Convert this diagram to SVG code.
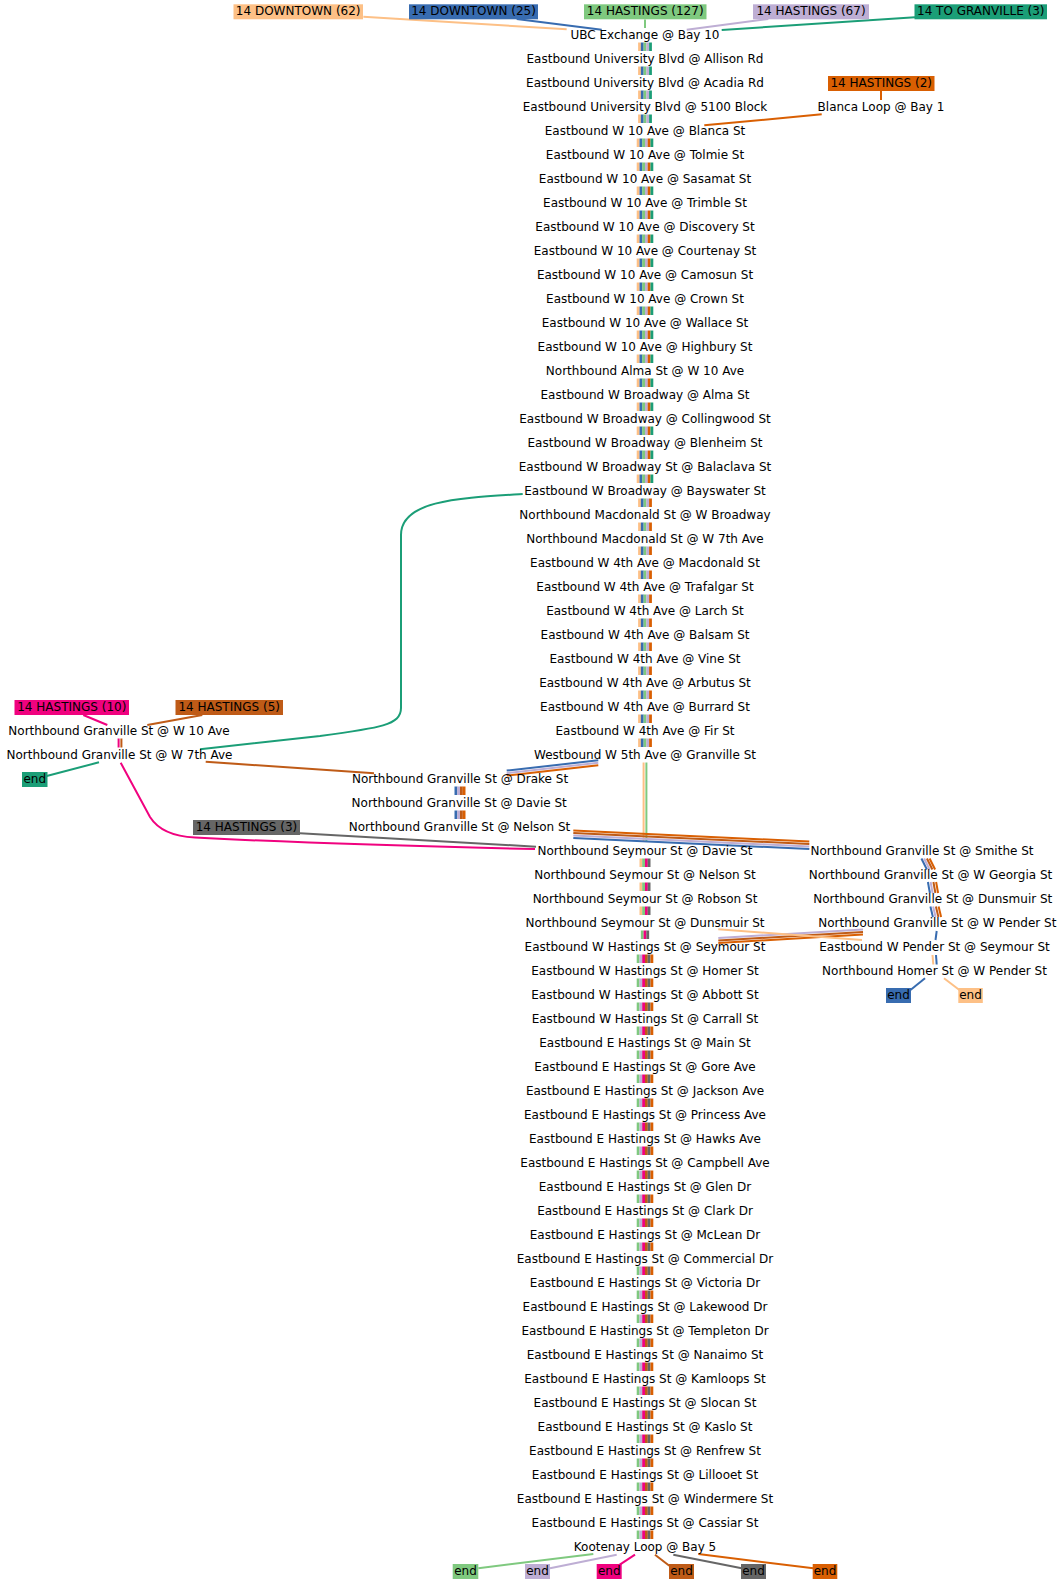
<svg xmlns="http://www.w3.org/2000/svg" width="1063" height="1584" viewBox="0 0 1063 1584">
<style>
text{font-family:"DejaVu Sans","Liberation Sans",sans-serif;font-size:12px;fill:#000;text-anchor:middle}
.e line,.e path,defs line{fill:none;stroke-width:2}
.L{stroke-width:2.8}
.pe{stroke:#fdc086}.bl{stroke:#386cb0}.gr{stroke:#7fc97f}.la{stroke:#beaed4}.te{stroke:#1b9e77}
.or{stroke:#d95f02}.pk{stroke:#f0027f}.br{stroke:#bf5b17}.gy{stroke:#666666}
.fpe{fill:#fdc086}.fbl{fill:#386cb0}.fgr{fill:#7fc97f}.fla{fill:#beaed4}.fte{fill:#1b9e77}
.for{fill:#d95f02}.fpk{fill:#f0027f}.fbr{fill:#bf5b17}.fgy{fill:#666666}
</style>
<defs>
<g id="b1"><line class="L pe" x1="639.5" x2="639.5" y2="8.5"/><line class="L bl" x1="642.25" x2="642.25" y2="8.5"/><line class="L gr" x1="645" x2="645" y2="8.5"/><line class="L la" x1="647.75" x2="647.75" y2="8.5"/><line class="L te" x1="650.5" x2="650.5" y2="8.5"/></g>
<g id="b2"><line class="L pe" x1="638.1" x2="638.1" y2="8.5"/><line class="L bl" x1="640.9" x2="640.9" y2="8.5"/><line class="L gr" x1="643.6" x2="643.6" y2="8.5"/><line class="L la" x1="646.4" x2="646.4" y2="8.5"/><line class="L or" x1="649.1" x2="649.1" y2="8.5"/><line class="L te" x1="651.9" x2="651.9" y2="8.5"/></g>
<g id="b3"><line class="L pe" x1="639.5" x2="639.5" y2="8.5"/><line class="L bl" x1="642.25" x2="642.25" y2="8.5"/><line class="L gr" x1="645" x2="645" y2="8.5"/><line class="L la" x1="647.75" x2="647.75" y2="8.5"/><line class="L or" x1="650.5" x2="650.5" y2="8.5"/></g>
<g id="b4"><line class="L pe" x1="640.9" x2="640.9" y2="8.5"/><line class="L gr" x1="643.6" x2="643.6" y2="8.5"/><line class="L pk" x1="646.4" x2="646.4" y2="8.5"/><line class="L gy" x1="649.1" x2="649.1" y2="8.5"/></g>
<g id="b5"><line class="L gr" x1="642.25" x2="642.25" y2="8.5"/><line class="L pk" x1="645" x2="645" y2="8.5"/><line class="L gy" x1="647.75" x2="647.75" y2="8.5"/></g>
<g id="b6"><line class="L gr" x1="638.1" x2="638.1" y2="8.5"/><line class="L la" x1="640.9" x2="640.9" y2="8.5"/><line class="L pk" x1="643.6" x2="643.6" y2="8.5"/><line class="L br" x1="646.4" x2="646.4" y2="8.5"/><line class="L gy" x1="649.1" x2="649.1" y2="8.5"/><line class="L or" x1="651.9" x2="651.9" y2="8.5"/></g>
<g id="bG"><line class="L bl" x1="455.9" x2="455.9" y2="8.5"/><line class="L la" x1="458.6" x2="458.6" y2="8.5"/><line class="L br" x1="461.4" x2="461.4" y2="8.5"/><line class="L or" x1="464.1" x2="464.1" y2="8.5"/></g>
</defs>
<rect width="1063" height="1584" fill="#fff"/>
<g id="connectors" class="e">
<line class="pe" x1="363.3" y1="16.7" x2="566.7" y2="29.3"/>
<line class="bl" x1="516.7" y1="19" x2="601.7" y2="29.7"/>
<line class="gr" x1="645" y1="19.5" x2="645" y2="28"/>
<line class="la" x1="768.3" y1="19" x2="686.7" y2="29.7"/>
<line class="te" x1="915" y1="17.3" x2="721.7" y2="30"/>
<line class="or" x1="881" y1="91" x2="881" y2="100"/>
<line class="or" x1="821.7" y1="114.3" x2="704.3" y2="125.3"/>
<use href="#b1" y="42.5"/><use href="#b1" y="66.5"/><use href="#b1" y="90.5"/><use href="#b1" y="114.5"/>
<use href="#b2" y="138.5"/><use href="#b2" y="162.5"/><use href="#b2" y="186.5"/><use href="#b2" y="210.5"/><use href="#b2" y="234.5"/><use href="#b2" y="258.5"/><use href="#b2" y="282.5"/><use href="#b2" y="306.5"/><use href="#b2" y="330.5"/><use href="#b2" y="354.5"/><use href="#b2" y="378.5"/><use href="#b2" y="402.5"/><use href="#b2" y="426.5"/><use href="#b2" y="450.5"/><use href="#b2" y="474.5"/>
<use href="#b3" y="498.5"/><use href="#b3" y="522.5"/><use href="#b3" y="546.5"/><use href="#b3" y="570.5"/><use href="#b3" y="594.5"/><use href="#b3" y="618.5"/><use href="#b3" y="642.5"/><use href="#b3" y="666.5"/><use href="#b3" y="690.5"/><use href="#b3" y="714.5"/><use href="#b3" y="738.5"/>
<path class="te" d="M522.7,494 C460,498 401,500 401,535 L401,708 C401,725 380,728 320,736 L200,749.3"/>
<line class="pk" x1="83.3" y1="715" x2="107.3" y2="725"/>
<line class="br" x1="202.3" y1="715" x2="147.3" y2="725"/>
<line class="L pk" x1="118.6" y1="738.5" x2="118.6" y2="747.5"/>
<line class="L br" x1="121.4" y1="738.5" x2="121.4" y2="747.5"/>
<line class="te" x1="99" y1="762.3" x2="46.7" y2="776"/>
<line class="br" x1="205.7" y1="761.7" x2="374" y2="773.3"/>
<path class="pk" d="M120.7,762.7 L150,817 Q162,836 195,837.5 C260,841 400,846 535,849"/>
<line class="gy" x1="300" y1="833.3" x2="536" y2="846.7"/>
<line class="L pe" x1="643.6" y1="762.5" x2="643.6" y2="842"/>
<line class="L gr" x1="646.4" y1="762.5" x2="646.4" y2="842"/>
<line class="L bl" x1="598.3" y1="760.3" x2="506.7" y2="770.6"/>
<line class="L la" x1="598.3" y1="762.8" x2="506.7" y2="773.1"/>
<line class="L or" x1="598.3" y1="765.3" x2="506.7" y2="775.6"/>
<use href="#bG" y="786.5"/><use href="#bG" y="810.5"/>
<line class="L or" x1="573.3" y1="830.5" x2="809.3" y2="841.5"/>
<line class="L br" x1="573.3" y1="833" x2="809.3" y2="844"/>
<line class="L la" x1="573.3" y1="835.5" x2="809.3" y2="846.5"/>
<line class="L bl" x1="573.3" y1="838" x2="809.3" y2="849"/>
<use href="#b4" y="858.5"/><use href="#b4" y="882.5"/><use href="#b4" y="906.5"/>
<use href="#b5" y="930.5"/>
<use href="#b6" y="954.5"/><use href="#b6" y="978.5"/><use href="#b6" y="1002.5"/><use href="#b6" y="1026.5"/><use href="#b6" y="1050.5"/><use href="#b6" y="1074.5"/><use href="#b6" y="1098.5"/><use href="#b6" y="1122.5"/><use href="#b6" y="1146.5"/><use href="#b6" y="1170.5"/><use href="#b6" y="1194.5"/><use href="#b6" y="1218.5"/><use href="#b6" y="1242.5"/><use href="#b6" y="1266.5"/><use href="#b6" y="1290.5"/><use href="#b6" y="1314.5"/><use href="#b6" y="1338.5"/><use href="#b6" y="1362.5"/><use href="#b6" y="1386.5"/><use href="#b6" y="1410.5"/><use href="#b6" y="1434.5"/><use href="#b6" y="1458.5"/><use href="#b6" y="1482.5"/><use href="#b6" y="1506.5"/><use href="#b6" y="1530.5"/>
<line class="L bl" x1="921.4" y1="858.5" x2="926.9" y2="869.5"/>
<line class="L la" x1="924.1" y1="858.5" x2="929.6" y2="869.5"/>
<line class="L br" x1="926.9" y1="858.5" x2="932.4" y2="869.5"/>
<line class="L or" x1="929.6" y1="858.5" x2="935.1" y2="869.5"/>
<line class="L bl" x1="927.9" y1="882" x2="929.9" y2="893"/>
<line class="L la" x1="930.6" y1="882" x2="932.6" y2="893"/>
<line class="L br" x1="933.4" y1="882" x2="935.4" y2="893"/>
<line class="L or" x1="936.1" y1="882" x2="938.1" y2="893"/>
<line class="L bl" x1="930.4" y1="906.5" x2="932.9" y2="917"/>
<line class="L la" x1="933.1" y1="906.5" x2="935.6" y2="917"/>
<line class="L br" x1="935.9" y1="906.5" x2="938.4" y2="917"/>
<line class="L or" x1="938.6" y1="906.5" x2="941.1" y2="917"/>
<line class="L bl" x1="936.7" y1="931" x2="935.5" y2="940"/>
<line class="L la" x1="863" y1="929.5" x2="718.3" y2="938"/>
<line class="L br" x1="863" y1="932" x2="718.3" y2="940.5"/>
<line class="L or" x1="863" y1="934.5" x2="718.3" y2="943"/>
<line class="pe" x1="718.3" y1="929.3" x2="862" y2="940"/>
<line class="L pe" x1="932.5" y1="955" x2="933.3" y2="964.5"/>
<line class="L bl" x1="936" y1="955" x2="936.7" y2="964.5"/>
<line class="bl" x1="925" y1="978.3" x2="908.3" y2="991.7"/>
<line class="pe" x1="944" y1="978.3" x2="961.7" y2="991.7"/>
<line class="gr" x1="593.3" y1="1554" x2="478.3" y2="1568.3"/>
<line class="la" x1="616.7" y1="1554.7" x2="550" y2="1568.3"/>
<line class="pk" x1="635" y1="1554.7" x2="618.3" y2="1565.7"/>
<line class="br" x1="655" y1="1554.7" x2="669.3" y2="1565.7"/>
<line class="gy" x1="673.3" y1="1554.7" x2="741.7" y2="1568.3"/>
<line class="or" x1="698.3" y1="1554" x2="813.3" y2="1568.3"/>
</g>
<g id="labels">
<g id="lab-downtown62"><rect class="fpe" x="233.5" y="4.3" width="129.5" height="15"/><text x="298.2" y="15.3">14 DOWNTOWN (62)</text></g>
<g id="lab-downtown25"><rect class="fbl" x="409" y="4.3" width="129" height="15"/><text x="473.5" y="15.3">14 DOWNTOWN (25)</text></g>
<g id="lab-hastings127"><rect class="fgr" x="584" y="4.3" width="122.5" height="15"/><text x="645.2" y="15.3">14 HASTINGS (127)</text></g>
<g id="lab-hastings67"><rect class="fla" x="753" y="4.3" width="116" height="15"/><text x="811" y="15.3">14 HASTINGS (67)</text></g>
<g id="lab-togranville3"><rect class="fte" x="914.5" y="4.3" width="132.5" height="15"/><text x="980.8" y="15.3">14 TO GRANVILLE (3)</text></g>
<g id="lab-hastings2"><rect class="for" x="828" y="76" width="106.5" height="15"/><text x="881.2" y="87.3">14 HASTINGS (2)</text></g>
<g id="lab-hastings10"><rect class="fpk" x="14.5" y="700" width="114.5" height="15"/><text x="71.8" y="711.3">14 HASTINGS (10)</text></g>
<g id="lab-hastings5"><rect class="fbr" x="175.5" y="700" width="107.5" height="15"/><text x="229.2" y="711.3">14 HASTINGS (5)</text></g>
<g id="lab-hastings3"><rect class="fgy" x="193" y="820" width="107" height="15"/><text x="246.5" y="831.3">14 HASTINGS (3)</text></g>
<g id="end-teal"><rect class="fte" x="22" y="772" width="25.5" height="15"/><text x="34.8" y="783.3">end</text></g>
<g id="end-blue"><rect class="fbl" x="886" y="988" width="25" height="15"/><text x="898.5" y="999.3">end</text></g>
<g id="end-peach"><rect class="fpe" x="958.3" y="988" width="24.5" height="15"/><text x="970.5" y="999.3">end</text></g>
<g id="end-green"><rect class="fgr" x="452.7" y="1564" width="25.6" height="15"/><text x="465.5" y="1575.3">end</text></g>
<g id="end-lav"><rect class="fla" x="525" y="1564" width="25" height="15"/><text x="537.5" y="1575.3">end</text></g>
<g id="end-pink"><rect class="fpk" x="596.7" y="1564" width="25" height="15"/><text x="609.2" y="1575.3">end</text></g>
<g id="end-brown"><rect class="fbr" x="669" y="1564" width="25" height="15"/><text x="681.5" y="1575.3">end</text></g>
<g id="end-gray"><rect class="fgy" x="741" y="1564" width="25" height="15"/><text x="753.5" y="1575.3">end</text></g>
<g id="end-orange"><rect class="for" x="812.7" y="1564" width="24.6" height="15"/><text x="825" y="1575.3">end</text></g>
</g>
<g id="stops">
<g id="s0"><text x="645" y="39.3">UBC Exchange @ Bay 10</text></g>
<g id="s1"><text x="645" y="63.3">Eastbound University Blvd @ Allison Rd</text></g>
<g id="s2"><text x="645" y="87.3">Eastbound University Blvd @ Acadia Rd</text></g>
<g id="s3"><text x="645" y="111.3">Eastbound University Blvd @ 5100 Block</text></g>
<g id="s-blanca-loop"><text x="881" y="111.3">Blanca Loop @ Bay 1</text></g>
<g id="s4"><text x="645" y="135.3">Eastbound W 10 Ave @ Blanca St</text></g>
<g id="s5"><text x="645" y="159.3">Eastbound W 10 Ave @ Tolmie St</text></g>
<g id="s6"><text x="645" y="183.3">Eastbound W 10 Ave @ Sasamat St</text></g>
<g id="s7"><text x="645" y="207.3">Eastbound W 10 Ave @ Trimble St</text></g>
<g id="s8"><text x="645" y="231.3">Eastbound W 10 Ave @ Discovery St</text></g>
<g id="s9"><text x="645" y="255.3">Eastbound W 10 Ave @ Courtenay St</text></g>
<g id="s10"><text x="645" y="279.3">Eastbound W 10 Ave @ Camosun St</text></g>
<g id="s11"><text x="645" y="303.3">Eastbound W 10 Ave @ Crown St</text></g>
<g id="s12"><text x="645" y="327.3">Eastbound W 10 Ave @ Wallace St</text></g>
<g id="s13"><text x="645" y="351.3">Eastbound W 10 Ave @ Highbury St</text></g>
<g id="s14"><text x="645" y="375.3">Northbound Alma St @ W 10 Ave</text></g>
<g id="s15"><text x="645" y="399.3">Eastbound W Broadway @ Alma St</text></g>
<g id="s16"><text x="645" y="423.3">Eastbound W Broadway @ Collingwood St</text></g>
<g id="s17"><text x="645" y="447.3">Eastbound W Broadway @ Blenheim St</text></g>
<g id="s18"><text x="645" y="471.3">Eastbound W Broadway St @ Balaclava St</text></g>
<g id="s19"><text x="645" y="495.3">Eastbound W Broadway @ Bayswater St</text></g>
<g id="s20"><text x="645" y="519.3">Northbound Macdonald St @ W Broadway</text></g>
<g id="s21"><text x="645" y="543.3">Northbound Macdonald St @ W 7th Ave</text></g>
<g id="s22"><text x="645" y="567.3">Eastbound W 4th Ave @ Macdonald St</text></g>
<g id="s23"><text x="645" y="591.3">Eastbound W 4th Ave @ Trafalgar St</text></g>
<g id="s24"><text x="645" y="615.3">Eastbound W 4th Ave @ Larch St</text></g>
<g id="s25"><text x="645" y="639.3">Eastbound W 4th Ave @ Balsam St</text></g>
<g id="s26"><text x="645" y="663.3">Eastbound W 4th Ave @ Vine St</text></g>
<g id="s27"><text x="645" y="687.3">Eastbound W 4th Ave @ Arbutus St</text></g>
<g id="s28"><text x="645" y="711.3">Eastbound W 4th Ave @ Burrard St</text></g>
<g id="s29"><text x="645" y="735.3">Eastbound W 4th Ave @ Fir St</text></g>
<g id="s30"><text x="645" y="759.3">Westbound W 5th Ave @ Granville St</text></g>
<g id="g-w10"><text x="119" y="735.3">Northbound Granville St @ W 10 Ave</text></g>
<g id="g-w7"><text x="119.5" y="759.3">Northbound Granville St @ W 7th Ave</text></g>
<g id="g-drake"><text x="460" y="783.3">Northbound Granville St @ Drake St</text></g>
<g id="g-davie"><text x="459.2" y="807.3">Northbound Granville St @ Davie St</text></g>
<g id="g-nelson"><text x="459.5" y="831.3">Northbound Granville St @ Nelson St</text></g>
<g id="s34"><text x="645" y="855.3">Northbound Seymour St @ Davie St</text></g>
<g id="s35"><text x="645" y="879.3">Northbound Seymour St @ Nelson St</text></g>
<g id="s36"><text x="645" y="903.3">Northbound Seymour St @ Robson St</text></g>
<g id="s37"><text x="645" y="927.3">Northbound Seymour St @ Dunsmuir St</text></g>
<g id="r-smithe"><text x="922" y="855.3">Northbound Granville St @ Smithe St</text></g>
<g id="r-georgia"><text x="930.5" y="879.3">Northbound Granville St @ W Georgia St</text></g>
<g id="r-dunsmuir"><text x="932.8" y="903.3">Northbound Granville St @ Dunsmuir St</text></g>
<g id="r-pender"><text x="937.3" y="927.3">Northbound Granville St @ W Pender St</text></g>
<g id="r-pender-seymour"><text x="934.5" y="951.3">Eastbound W Pender St @ Seymour St</text></g>
<g id="r-homer"><text x="934.5" y="975.3">Northbound Homer St @ W Pender St</text></g>
<g id="s38"><text x="645" y="951.3">Eastbound W Hastings St @ Seymour St</text></g>
<g id="s39"><text x="645" y="975.3">Eastbound W Hastings St @ Homer St</text></g>
<g id="s40"><text x="645" y="999.3">Eastbound W Hastings St @ Abbott St</text></g>
<g id="s41"><text x="645" y="1023.3">Eastbound W Hastings St @ Carrall St</text></g>
<g id="s42"><text x="645" y="1047.3">Eastbound E Hastings St @ Main St</text></g>
<g id="s43"><text x="645" y="1071.3">Eastbound E Hastings St @ Gore Ave</text></g>
<g id="s44"><text x="645" y="1095.3">Eastbound E Hastings St @ Jackson Ave</text></g>
<g id="s45"><text x="645" y="1119.3">Eastbound E Hastings St @ Princess Ave</text></g>
<g id="s46"><text x="645" y="1143.3">Eastbound E Hastings St @ Hawks Ave</text></g>
<g id="s47"><text x="645" y="1167.3">Eastbound E Hastings St @ Campbell Ave</text></g>
<g id="s48"><text x="645" y="1191.3">Eastbound E Hastings St @ Glen Dr</text></g>
<g id="s49"><text x="645" y="1215.3">Eastbound E Hastings St @ Clark Dr</text></g>
<g id="s50"><text x="645" y="1239.3">Eastbound E Hastings St @ McLean Dr</text></g>
<g id="s51"><text x="645" y="1263.3">Eastbound E Hastings St @ Commercial Dr</text></g>
<g id="s52"><text x="645" y="1287.3">Eastbound E Hastings St @ Victoria Dr</text></g>
<g id="s53"><text x="645" y="1311.3">Eastbound E Hastings St @ Lakewood Dr</text></g>
<g id="s54"><text x="645" y="1335.3">Eastbound E Hastings St @ Templeton Dr</text></g>
<g id="s55"><text x="645" y="1359.3">Eastbound E Hastings St @ Nanaimo St</text></g>
<g id="s56"><text x="645" y="1383.3">Eastbound E Hastings St @ Kamloops St</text></g>
<g id="s57"><text x="645" y="1407.3">Eastbound E Hastings St @ Slocan St</text></g>
<g id="s58"><text x="645" y="1431.3">Eastbound E Hastings St @ Kaslo St</text></g>
<g id="s59"><text x="645" y="1455.3">Eastbound E Hastings St @ Renfrew St</text></g>
<g id="s60"><text x="645" y="1479.3">Eastbound E Hastings St @ Lillooet St</text></g>
<g id="s61"><text x="645" y="1503.3">Eastbound E Hastings St @ Windermere St</text></g>
<g id="s62"><text x="645" y="1527.3">Eastbound E Hastings St @ Cassiar St</text></g>
<g id="s63"><text x="645" y="1551.3">Kootenay Loop @ Bay 5</text></g>
</g>
</svg>
